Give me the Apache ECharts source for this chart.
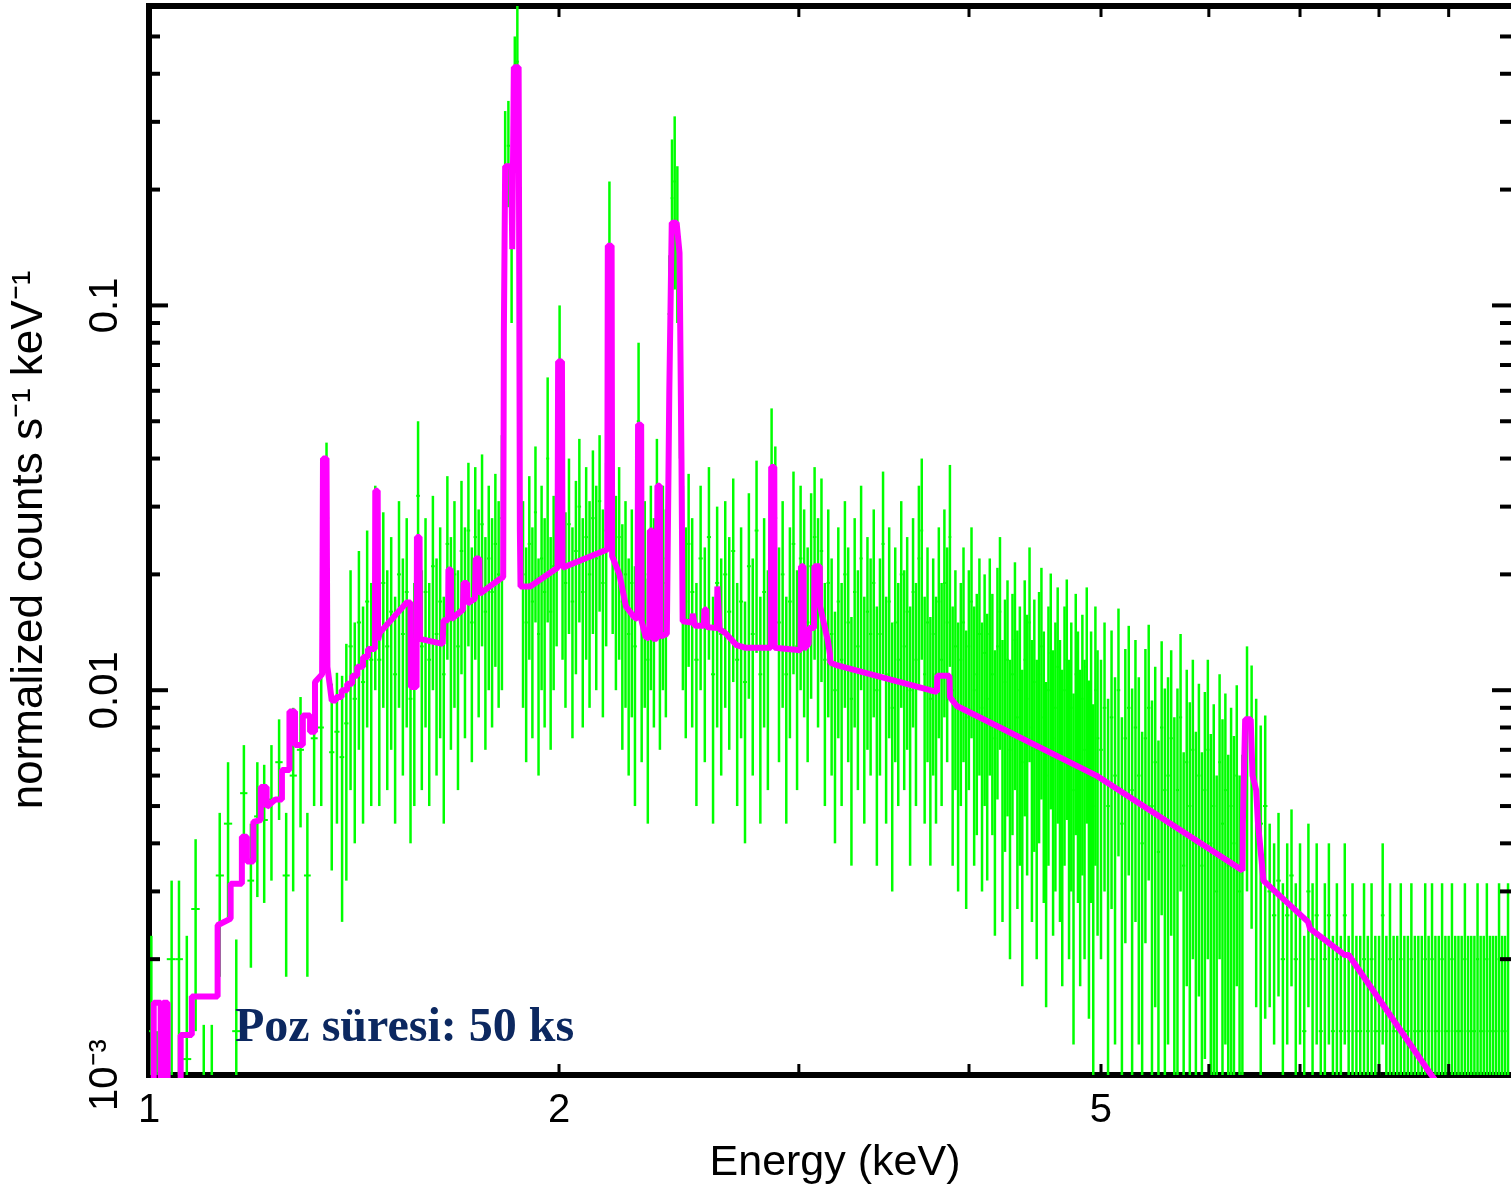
<!DOCTYPE html>
<html>
<head>
<meta charset="utf-8">
<title>Spectrum</title>
<script src="https://cdn.jsdelivr.net/npm/echarts@6/dist/echarts.min.js"></script>
<style>
  html, body { margin: 0; padding: 0; background: #fff; }
  #main { width: 1511px; height: 1188px; }
</style>
</head>
<body>
<div id="main"></div>
<script>
// axis ranges
var X_MIN = 1, X_MAX = 10;
var Y_MIN = 0.001, Y_MAX = 0.6;
var RATE_UNIT = 1e-3; // rates below are in 10^-3 counts s^-1 keV^-1

// observed spectrum (green): bin centre (keV), rate, 1-sigma error
var dataEnergy = [
  1.004,1.013,1.022,1.039,1.052,1.066,1.082,1.097,1.112,1.127,1.143,1.159,1.174,1.188,1.201,1.215,1.230,1.246,1.261,1.276,1.292,1.307,1.322,1.338,1.350,1.362,1.374,
  1.386,1.396,1.406,1.416,1.426,1.436,1.446,1.456,1.466,1.476,1.486,1.496,1.506,1.516,1.526,1.536,1.546,1.556,1.566,1.576,1.586,1.596,1.606,1.616,1.626,1.636,1.646,1.656,1.666,1.676,1.686,1.696,1.706,1.716,1.726,1.736,1.746,1.756,1.766,1.776,1.786,1.796,1.806,
  1.816,1.826,1.836,1.846,1.856,1.864,1.873,1.882,1.892,1.902,1.912,1.922,1.932,1.942,1.952,1.962,1.972,1.982,1.992,2.002,2.012,2.022,2.034,2.046,2.058,2.070,2.082,2.094,2.106,2.118,2.130,2.142,2.154,2.166,2.178,2.190,2.202,2.214,2.226,2.238,2.250,2.262,2.274,2.288,2.300,2.312,2.324,2.336,2.348,2.360,2.372,2.384,2.396,2.410,2.421,2.432,2.443,2.454,2.466,2.478,2.490,
  2.505,2.523,2.541,2.559,2.577,2.595,2.613,2.631,2.649,2.667,
  2.685,2.703,2.721,2.739,2.757,2.775,2.793,2.811,2.829,2.847,
  2.865,2.883,2.901,2.919,2.937,2.955,2.973,2.991,3.009,3.027,
  3.045,3.063,3.081,3.099,3.117,3.135,3.153,3.171,3.189,3.207,
  3.225,3.243,3.261,3.279,3.297,3.315,3.333,3.351,3.369,3.387,
  3.405,3.423,3.441,3.459,3.477,3.495,3.513,3.531,3.549,3.567,
  3.585,3.603,3.621,3.639,3.657,3.675,3.693,3.711,3.729,3.747,
  3.765,3.783,3.801,3.819,3.837,3.855,3.873,3.891,3.909,3.927,
  3.945,3.963,3.981,3.999,4.017,4.035,4.053,4.071,4.089,4.107,
  4.125,4.143,4.161,4.179,4.197,4.215,4.233,4.251,4.269,4.287,
  4.305,4.323,4.341,4.359,4.377,4.395,4.413,4.431,4.449,4.467,
  4.485,4.503,4.521,4.539,4.557,4.575,4.593,4.611,4.629,4.647,
  4.665,4.683,4.701,4.719,4.737,4.755,4.773,4.791,4.809,4.827,
  4.845,4.863,4.881,4.899,4.917,4.935,4.953,4.971,
  5.000,5.030,5.060,5.090,5.120,5.150,5.180,5.210,5.240,5.270,
  5.300,5.330,5.360,5.390,5.420,5.450,5.480,5.510,5.540,5.570,
  5.600,5.630,5.660,5.690,5.720,5.750,5.780,5.810,5.840,5.870,
  5.900,5.930,5.960,5.990,6.020,6.050,6.080,6.110,6.140,6.170,
  6.200,6.230,6.260,6.290,6.320,6.350,
  6.400,6.450,6.500,6.550,6.600,6.650,6.700,6.750,6.800,6.850,
  6.900,6.950,7.000,7.050,7.100,7.150,7.200,7.250,7.300,7.350,
  7.400,7.450,7.500,7.550,7.600,7.650,7.700,7.750,7.800,7.850,
  7.900,7.950,8.000,8.050,8.100,8.150,8.200,8.250,8.300,8.350,
  8.400,8.450,8.500,8.550,8.600,8.650,8.700,8.750,8.800,8.850,
  8.900,8.950,9.000,9.050,9.100,9.150,9.200,9.250,9.300,9.350,
  9.400,9.450,9.500,9.550,9.600,9.650,9.700,9.750,9.800,9.850,
  9.900,9.950
];
var dataRate = [
  1.3,0.6,0.5,2.0,2.0,1.1,2.7,0.6,0.6,3.3,4.5,1.3,5.4,3.2,4.7,4.6,5.2,6.5,3.3,6.0,7.0,3.3,7.5,8.0,28,6.9,7.8,
  6.7,8.2,13,9.5,15,10.5,17,12,22,12,19,13,16,11,20,14,18,9.5,12,32,13,18,12,21,14,17,11,24,16,20,13,23,17,26,15,25,19,27,16,22,18,24,20,
  28,230,260,150,380,430,40,20,15,24,17,29,14,22,18,40,16,21,26,62,24,19,27,17,23,30,18,25,20,28,22,31,19,26,125,30,21,25,17,20,14,19,13,50,15,20,12,22,18,30,16,22,19,95,190,210,160,80,22,17,24,
  18,12,22,15,25,11,19,14,20,16,
  23,12,17,10.5,21,14,26,11,18,13,
  36,28,15,20,11,17,24,13,22,19,
  15,21,25,18,23,12,19,14,10,17,
  12,20,15,9.5,18,13,22,11,16,14,
  19,10,14,24,11,17,9,15,12,20,
  13,16,10,18,12,22,26,11,15,9.5,
  14,11,17,12,19,15,25,10,13,9,
  12,15,8.5,13,17,10,11,14,9,12.5,
  9.5,14,11,7.5,13,16,8,10.5,12,7,
  11,13.5,8.5,10,6.5,12,9.5,15,8,10.5,
  7,11,13,8.5,6,10,12.5,7.5,9,11.5,
  8,6.5,10,12,7,9,5.5,11,8.5,6.5,
  9.5,7,11.5,6,8.5,5,10,7.5,
  7,9,5,8.5,6,10,4.5,7.5,9,5.5,
  8,6,4,7.5,9,5,6.5,3.8,8,5.5,
  6,7.5,4.5,5.5,8.5,3.5,6.5,5,7,4,
  6,3.5,5.5,7,4,5,3,6.5,4.5,5.5,
  3.5,5,4,6,3,3.5,
  8,7,5.5,4.5,5,3,2.6,3.2,2,2.6,
  3.3,2,2.6,1.3,3,2,2.6,1.3,2,2.6,
  1.3,2,1.3,2.6,1.3,2,1.3,1.3,2,1.3,
  2,1.3,1.3,2.6,1.3,2,1.3,1.3,2,1.3,
  1.3,2,1.3,1.3,1.3,2,1.3,2,1.3,1.3,
  2,1.3,1.3,2,1.3,1.3,1.3,2,1.3,1.3,
  1.3,2,1.3,1.3,2,1.3,1.3,1.3,2,1.3,
  1.3,2
];
var dataErr = [
  1.0,0.7,0.6,1.2,1.2,1.2,1.4,0.75,0.75,1.5,2.0,0.95,1.8,1.3,1.8,1.8,2.0,1.9,1.5,3.0,2.6,1.5,2.5,3.0,16,3.5,3.3,
  4.2,5,7.5,5.5,8,6,9,7,12,7,10,7.5,9,6.5,11,8,10,5.5,7,18,7.5,10,7,11,8,9.5,6.5,12,9,11,7.5,12,9.5,13,8.5,13,10.5,14,9,12,10,12.5,11,
  18,90,80,60,120,170,20,11,8.5,12,9.5,14,8,12,10,25,9,11,13,38,12,10,13,9.5,12,15,10,13,11,14,12,15,10.5,13,85,16,11,13,10,11,8,10.5,8,30,8.5,11,7.5,12,10,15,9,12,10.5,40,80,100,70,40,12,9.5,12.5,
  10,7,12,8.5,13,6.5,11,8,11,9,
  12.5,7,9.5,6.5,11.5,8,13.5,6.5,10,7.5,
  18,15,8.5,11,6.5,9.5,13,7.5,12,10.5,
  8.5,11.5,13,10,12.5,7,10.5,8,6,9.5,
  7,11,8.5,6,10,7.5,12,6.5,9,8,
  10.5,6.5,8,13,6.5,9.5,6,8.5,7,11,
  7.5,9,6.5,10,7,12,14,6.5,8.5,6,
  8,6.5,9.5,7,10.5,8.5,13.5,6.5,7.5,6,
  7,8.5,5.8,7.5,9.5,6.5,6.8,8,6,7.5,
  6.3,8,6.8,5.2,7.8,9,5.5,6.7,7.3,5,
  6.8,8,5.8,6.5,4.8,7.3,6.2,8.5,5.5,6.7,
  5,7,7.8,5.7,4.5,6.5,7.6,5.2,6,7,
  5.5,4.8,6.5,7.4,5,6,4.3,6.8,5.7,4.8,
  6.2,5,7,4.6,5.7,4.2,6.5,5.2,
  5,6,4.5,5.8,4.8,6.3,4,5.3,5.7,4.6,
  5.5,4.8,3.8,5.3,5.8,4.4,5,3.6,5.4,4.6,
  4.8,5.2,4,4.6,5.5,3.4,4.8,4.3,5,3.8,
  4.4,3.4,4.4,5,3.7,4.2,3,4.5,3.9,4.3,
  3.3,4,3.6,4.3,3,3.3,
  5,4.6,4,3.6,3.6,1.5,1.4,1.6,1.15,1.4,
  1.6,1.15,1.4,1,1.5,1.15,1.4,1,1.15,1.4,
  1,1.15,1,1.4,1,1.15,1,1,1.15,1,
  1.15,1,1,1.4,1,1.15,1,1,1.15,1,
  1,1.15,1,1,1,1.15,1,1.15,1,1,
  1.15,1,1,1.15,1,1,1,1.15,1,1,
  1,1.15,1,1,1.15,1,1,1,1.15,1,
  1,1.15
];

// folded model (magenta): vertices of the step curve
var modelEnergy = [
  1.000,1.008,1.008,1.020,1.020,1.024,1.024,1.032,1.032,1.055,1.055,1.075,1.075,1.123,1.123,1.148,1.148,1.170,1.170,1.180,1.180,1.193,1.193,1.208,1.208,1.220,1.220,1.238,1.252,1.252,
  1.268,1.268,1.280,1.280,1.297,1.297,1.313,1.313,1.324,1.324,1.340,1.342,1.350,1.352,1.358,1.362,
  1.372,1.372,1.385,1.385,1.398,1.398,1.410,1.410,1.422,1.422,1.436,1.436,1.448,1.448,1.465,
  1.466,1.472,1.473,1.477,1.546,1.556,1.557,1.572,1.573,1.580,1.581,1.643,1.645,1.658,1.659,1.666,1.667,1.700,1.702,1.712,1.713,1.735,1.737,1.748,1.749,1.808,
  1.820,1.822,1.826,1.845,1.848,1.853,1.868,1.870,1.872,1.874,1.905,1.995,1.997,2.010,2.012,2.170,2.172,2.186,2.188,2.215,2.240,2.270,2.284,2.286,2.298,2.300,2.315,2.330,2.332,2.342,
  2.344,2.360,2.362,2.372,2.374,2.400,2.410,2.420,2.440,2.452,2.460,2.465,2.505,2.507,2.515,2.517,2.555,2.557,2.566,2.568,2.612,2.614,2.622,2.624,2.648,2.700,2.739,2.861,2.863,2.878,
  2.880,3.009,3.011,3.024,3.026,3.050,3.052,3.078,3.080,3.108,3.110,3.150,3.162,3.164,3.202,3.745,3.789,3.791,3.870,3.873,3.919,4.961,
  6.352,6.355,6.380,6.440,6.460,6.500,6.520,6.560,6.580,7.096,7.120,7.551,7.600,8.740,10.0
];
var modelRate = [
  0.5,0.5,1.54,1.54,0.5,0.5,1.54,1.54,0.5,0.5,1.27,1.27,1.6,1.6,2.45,2.55,3.14,3.14,4.16,4.16,3.59,3.59,4.55,4.6,5.6,5.6,4.97,5.2,5.2,6.2,
  6.2,8.8,8.8,7.2,7.2,8.6,8.6,7.8,7.8,10.5,11.0,40,40,11.5,10.2,9.4,
  9.4,9.6,9.6,10.0,10.0,10.4,10.4,10.9,10.9,11.5,11.5,12.2,12.2,12.8,12.8,
  33,33,13.5,14.1,16.9,16.9,10.2,10.2,25,25,13.6,13.2,15.2,15.2,20.6,20.6,15.3,16.2,19,19,16.8,17.3,22,22,17.8,19.4,
  19.7,85,230,230,140,416,416,120,26,18.6,18.6,20.8,71.5,71.5,20.8,23.2,143,143,22.3,20,16.5,15.5,15.3,49,49,15.1,13.8,13.6,26,26,
  13.6,13.6,34,34,13.8,14,60,164,164,137,40,15.1,15.0,15.8,15.8,14.7,14.7,16.2,16.2,14.6,14.5,18.6,18.6,14.4,14.1,13.1,12.9,12.9,38,38,
  12.9,12.7,21,21,12.8,13.2,14.5,14.5,21,21,16.5,13.5,12.4,11.8,11.6,10.0,9.9,10.9,10.9,9.6,9.1,6.0,
  3.4,4.5,8.4,8.4,6.0,5.5,4.5,3.6,3.2,2.5,2.4,2.05,2.05,1.0,0.53
];

// axis decorations
var xTickValues = [2, 3, 4, 5, 6, 7, 8, 9];
var yMinorTicks = [0.002,0.003,0.004,0.005,0.006,0.007,0.008,0.009,0.02,0.03,0.04,0.05,0.06,0.07,0.08,0.09,0.2,0.3,0.4,0.5];
var yMajorTicks = [0.01, 0.1];
var xLabelValues = [1, 2, 5];
var xLabelTexts = ['1', '2', '5'];
var yLabelValues = [0.001, 0.01, 0.1];
var yLabelTexts = ['10\u207B\u00B3', '0.01', '0.1'];

var GREEN = '#00ff00';
var MAGENTA = '#ff00ff';
var LABEL_FONT = '40px "Liberation Sans", Arial, sans-serif';

var chart = echarts.init(document.getElementById('main'), null, { renderer: 'canvas' });

var n = dataEnergy.length;
var greenData = dataEnergy.map(function (e, i) {
  var prev = i > 0 ? dataEnergy[i - 1] : e - (dataEnergy[1] - dataEnergy[0]);
  var next = i < n - 1 ? dataEnergy[i + 1] : e + (e - dataEnergy[i - 1]);
  return [e, dataRate[i] * RATE_UNIT, dataErr[i] * RATE_UNIT, (prev + e) / 2, (e + next) / 2];
});
var modelData = modelEnergy.map(function (e, i) {
  return [e, modelRate[i] * RATE_UNIT];
});

function clampY(v, cs) {
  return Math.max(cs.y, Math.min(cs.y + cs.height, v));
}

// error bars: vertical = rate +- err, horizontal = bin width
function renderErrorBar(params, api) {
  var cs = params.coordSys;
  var bottom = cs.y + cs.height;
  var e = api.value(0), y = api.value(1), s = api.value(2);
  var x = api.coord([e, Y_MIN])[0];
  var yHi = clampY(api.coord([e, y + s])[1], cs);
  var yLo = (y - s) > 0 ? clampY(api.coord([e, y - s])[1], cs) : bottom;
  var children = [{
    type: 'line',
    shape: { x1: x, y1: yLo, x2: x, y2: yHi },
    style: { stroke: GREEN, lineWidth: 2.5 }
  }];
  if (y >= Y_MIN) {
    var yc = api.coord([e, y])[1];
    var xl = Math.max(cs.x, api.coord([api.value(3), y])[0]);
    var xr = Math.min(cs.x + cs.width, api.coord([api.value(4), y])[0]);
    children.push({
      type: 'line',
      shape: { x1: xl, y1: yc, x2: xr, y2: yc },
      style: { stroke: GREEN, lineWidth: 2 }
    });
  }
  return { type: 'group', children: children };
}

function renderXTick(params, api) {
  var cs = params.coordSys;
  var x = api.coord([api.value(0), Y_MIN])[0];
  var len = 11;
  return {
    type: 'group',
    children: [
      { type: 'line', shape: { x1: x, y1: cs.y + cs.height, x2: x, y2: cs.y + cs.height - len }, style: { stroke: '#000', lineWidth: 3 } },
      { type: 'line', shape: { x1: x, y1: cs.y, x2: x, y2: cs.y + len }, style: { stroke: '#000', lineWidth: 3 } }
    ]
  };
}

function renderYTick(params, api) {
  var cs = params.coordSys;
  var y = api.coord([X_MIN, api.value(1)])[1];
  var len = api.value(2) ? 19 : 11;
  return {
    type: 'group',
    children: [
      { type: 'line', shape: { x1: cs.x, y1: y, x2: cs.x + len, y2: y }, style: { stroke: '#000', lineWidth: 4 } },
      { type: 'line', shape: { x1: cs.x + cs.width, y1: y, x2: cs.x + cs.width - len, y2: y }, style: { stroke: '#000', lineWidth: 4 } }
    ]
  };
}

function renderXLabel(params, api) {
  var cs = params.coordSys;
  var x = api.coord([api.value(0), Y_MIN])[0];
  return {
    type: 'text',
    x: x,
    y: cs.y + cs.height + 36,
    style: { text: xLabelTexts[params.dataIndex], font: LABEL_FONT, fill: '#000', align: 'center', verticalAlign: 'middle' }
  };
}

function renderYLabel(params, api) {
  var cs = params.coordSys;
  var y = api.coord([X_MIN, api.value(1)])[1];
  return {
    type: 'text',
    x: cs.x - 43,
    y: y,
    rotation: Math.PI / 2,
    style: { text: yLabelTexts[params.dataIndex], font: LABEL_FONT, fill: '#000', align: 'center', verticalAlign: 'middle' }
  };
}

var hiddenAxisParts = {
  axisTick: { show: false },
  axisLabel: { show: false },
  splitLine: { show: false },
  minorTick: { show: false },
  minorSplitLine: { show: false }
};
var borderLine = { show: true, onZero: false, lineStyle: { color: '#000', width: 6, cap: 'square' } };

var yTickData = yMinorTicks.map(function (v) { return [X_MIN, v, 0]; })
  .concat(yMajorTicks.map(function (v) { return [X_MIN, v, 1]; }));

var option = {
  animation: false,
  backgroundColor: '#ffffff',
  grid: { left: 149, top: 6, width: 1365, height: 1069, containLabel: false },
  xAxis: [
    Object.assign({ type: 'log', logBase: 10, min: X_MIN, max: X_MAX, position: 'bottom', axisLine: borderLine }, hiddenAxisParts),
    Object.assign({ type: 'log', logBase: 10, min: X_MIN, max: X_MAX, position: 'top', axisLine: borderLine }, hiddenAxisParts)
  ],
  yAxis: [
    Object.assign({ type: 'log', logBase: 10, min: Y_MIN, max: Y_MAX, position: 'left', axisLine: borderLine }, hiddenAxisParts)
  ],
  series: [
    {
      type: 'custom',
      name: 'data',
      renderItem: renderErrorBar,
      data: greenData,
      encode: { x: 0, y: 1 },
      silent: true,
      z: 2
    },
    {
      type: 'line',
      name: 'model',
      data: modelData,
      showSymbol: false,
      symbol: 'none',
      clip: true,
      lineStyle: { color: MAGENTA, width: 6 },
      silent: true,
      z: 3
    },
    {
      type: 'custom',
      renderItem: renderXTick,
      data: xTickValues.map(function (v) { return [v, Y_MIN]; }),
      encode: { x: 0, y: 1 },
      silent: true,
      z: 4
    },
    {
      type: 'custom',
      renderItem: renderYTick,
      data: yTickData,
      encode: { x: 0, y: 1 },
      silent: true,
      z: 4
    },
    {
      type: 'custom',
      renderItem: renderXLabel,
      data: xLabelValues.map(function (v) { return [v, Y_MIN]; }),
      encode: { x: 0, y: 1 },
      silent: true,
      z: 4
    },
    {
      type: 'custom',
      renderItem: renderYLabel,
      data: yLabelValues.map(function (v) { return [X_MIN, v]; }),
      encode: { x: 0, y: 1 },
      silent: true,
      z: 4
    }
  ],
  graphic: [
    {
      type: 'text',
      x: 835, y: 1163,
      style: { text: 'Energy (keV)', font: '43px "Liberation Sans", Arial, sans-serif', fill: '#000', align: 'center', verticalAlign: 'middle' }
    },
    {
      type: 'text',
      x: 30, y: 540,
      rotation: Math.PI / 2,
      style: { text: 'normalized counts s\u207B\u00B9 keV\u207B\u00B9', font: '44px "Liberation Sans", Arial, sans-serif', fill: '#000', align: 'center', verticalAlign: 'middle' }
    },
    {
      type: 'text',
      x: 235, y: 1029,
      z: 10,
      style: { text: 'Poz süresi: 50 ks', font: 'bold 48px "Liberation Serif", "Times New Roman", serif', fill: '#0c2860', align: 'left', verticalAlign: 'middle' }
    }
  ]
};

chart.setOption(option);
</script>
</body>
</html>
